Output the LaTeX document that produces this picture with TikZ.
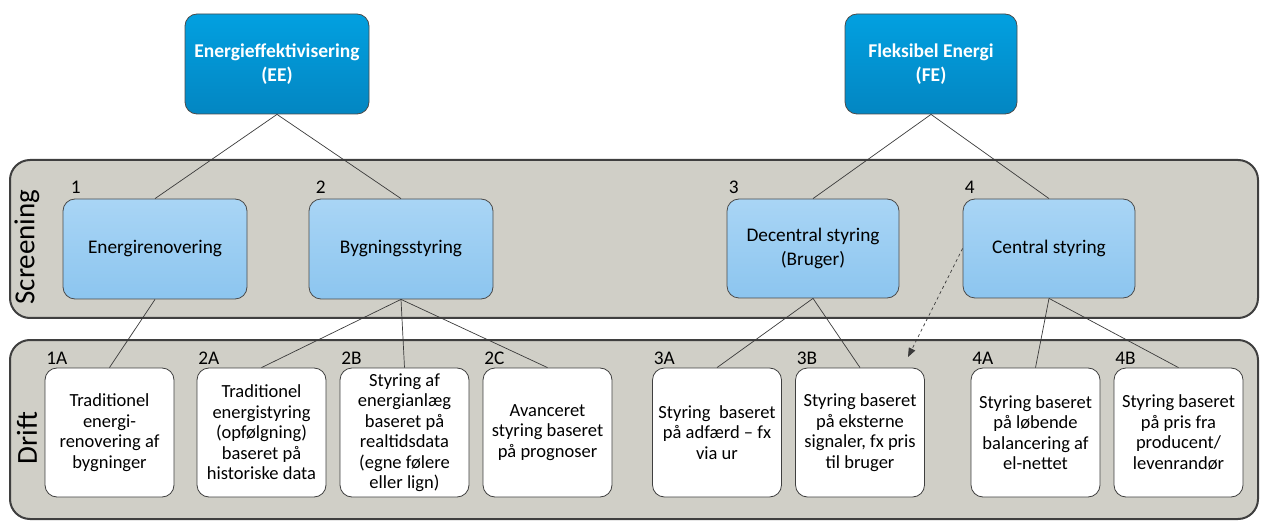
\documentclass[tikz,border=0pt]{standalone}
\usepackage{fontspec}
\setmainfont{Carlito}
\usetikzlibrary{arrows.meta}
\definecolor{bandfill}{HTML}{D0CFC7}
\definecolor{bandline}{HTML}{3F3F3F}
\definecolor{topA}{HTML}{02A0E0}
\definecolor{topB}{HTML}{0386C2}
\definecolor{scrA}{HTML}{A9D5F5}
\definecolor{scrB}{HTML}{8CC5EF}
\definecolor{edge}{HTML}{4A4A4A}
\definecolor{conncol}{HTML}{3A3A3A}
\begin{document}
\begin{tikzpicture}[x=1pt,y=-1pt,
  band/.style={draw=bandline, line width=2pt, fill=bandfill, rounded corners=20pt},
  topbox/.style={draw=edge, line width=0.8pt, rounded corners=12pt, top color=topA, bottom color=topB,
    minimum height=100pt, align=center, text=white, font=\fontsize{19.5}{24}\selectfont\bfseries, inner sep=0pt},
  scrbox/.style={draw=edge, line width=0.8pt, rounded corners=12pt, top color=scrA, bottom color=scrB,
    minimum height=100pt, align=center, text=black, font=\fontsize{19.3}{23.5}\selectfont, inner sep=0pt},
  drbox/.style={draw=bandline, line width=0.8pt, rounded corners=12pt, fill=white,
    minimum width=129pt, minimum height=129pt, align=center, text=black, font=\fontsize{18.5}{20.5}\selectfont, inner sep=0pt},
  num/.style={anchor=base west, font=\fontsize{19.3}{22}\selectfont, inner sep=0pt},
  bandlab/.style={rotate=90, font=\fontsize{29}{32}\selectfont, inner sep=0pt},
  conn/.style={draw=conncol, line width=0.7pt},
  dconn/.style={draw=conncol, line width=0.7pt, dashed, -{Triangle[length=9pt,width=7pt]}}
]
\useasboundingbox (0,0) rectangle (1261,521);

% bands
\draw[band] (10,160) rectangle (1258,318);
\draw[band] (10,340) rectangle (1258,519);
\node[bandlab] (lscr) at (27,247) {Screening};
\node[bandlab] (ldrift) at (27,438) {Drift};

% top boxes
\node[topbox, minimum width=184pt] (EE) at (277,64) {Energieffektivisering\\(EE)};
\node[topbox, minimum width=172pt] (FE) at (931,64) {Fleksibel Energi\\(FE)};

% screening boxes
\node[scrbox, minimum width=184pt] (S1) at (155,249) {Energirenovering};
\node[scrbox, minimum width=184pt] (S2) at (401,249) {Bygningsstyring};
\node[scrbox, minimum width=172pt, minimum height=99pt] (S3) at (813,248.5) {Decentral styring\\(Bruger)};
\node[scrbox, minimum width=172pt, minimum height=99pt] (S4) at (1049,248.5) {Central styring};

% drift boxes
\node[drbox] (D1A) at (109.5,432.5) {Traditionel\\energi-\\renovering af\\bygninger};
\node[drbox] (D2A) at (261.5,432.5) {Traditionel\\energistyring\\(opfølgning)\\baseret på\\historiske data};
\node[drbox] (D2B) at (404.5,432.5) {Styring af\\energianlæg\\baseret på\\realtidsdata\\(egne følere\\eller lign)};
\node[drbox] (D2C) at (547.5,432.5) {Avanceret\\styring baseret\\på prognoser};
\node[drbox] (D3A) at (717,432.5) {Styring\ \ baseret\\på adfærd – fx\\via ur};
\node[drbox] (D3B) at (860,432.5) {Styring baseret\\på eksterne\\signaler, fx pris\\til bruger};
\node[drbox] (D4A) at (1035.5,432.5) {Styring baseret\\på løbende\\balancering af\\el-nettet};
\node[drbox] (D4B) at (1178.5,432.5) {Styring baseret\\på pris fra\\producent/\\levenrandør};

% number labels
\node[num] (n1) at ([shift={(8,-5)}]S1.north west) {1};
\node[num] (n2) at ([shift={(7,-5)}]S2.north west) {2};
\node[num] (n3) at ([shift={(2,-5)}]S3.north west) {3};
\node[num] (n4) at ([shift={(2,-5)}]S4.north west) {4};
\node[num] (n1A) at ([shift={(1.5,-3)}]D1A.north west) {1A};
\node[num] (n2A) at ([shift={(1.5,-3)}]D2A.north west) {2A};
\node[num] (n2B) at ([shift={(1.5,-3)}]D2B.north west) {2B};
\node[num] (n2C) at ([shift={(1.5,-3)}]D2C.north west) {2C};
\node[num] (n3A) at ([shift={(1.5,-3)}]D3A.north west) {3A};
\node[num] (n3B) at ([shift={(1.5,-3)}]D3B.north west) {3B};
\node[num] (n4A) at ([shift={(1.5,-3)}]D4A.north west) {4A};
\node[num] (n4B) at ([shift={(1.5,-3)}]D4B.north west) {4B};

% connectors
\draw[conn] (EE.south) -- (S1.north);
\draw[conn] (EE.south) -- (S2.north);
\draw[conn] (FE.south) -- (S3.north);
\draw[conn] (FE.south) -- (S4.north);
\draw[conn] (S1.south) -- (D1A.north);
\draw[conn] (S2.south) -- (D2A.north);
\draw[conn] (S2.south) -- (D2B.north);
\draw[conn] (S2.south) -- (D2C.north);
\draw[conn] (S3.south) -- (D3A.north);
\draw[conn] (S3.south) -- (D3B.north);
\draw[conn] (S4.south) -- (D4A.north);
\draw[conn] (S4.south) -- (D4B.north);
\coordinate (tip) at (908,357);
\draw[dconn] (S4.west) -- (tip);
\end{tikzpicture}
\end{document}
